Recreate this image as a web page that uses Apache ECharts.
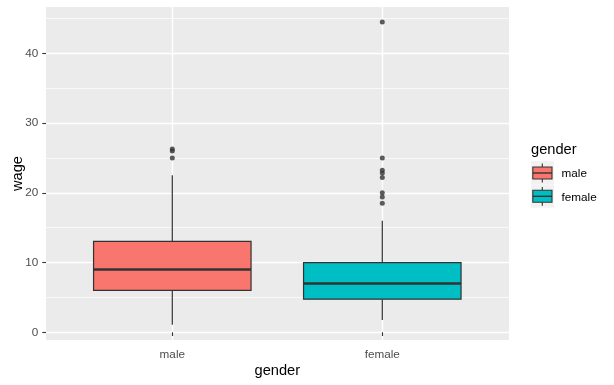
<!DOCTYPE html>
<html><head><meta charset="utf-8">
<script src="https://cdn.jsdelivr.net/npm/echarts@6/dist/echarts.min.js"></script>
<style>html,body{margin:0;padding:0;background:#fff}#c{width:614px;height:385px}</style>
</head><body><div id="c"></div>
<script>
// ---- data ----
const categories = ['male', 'female'];
const fillColors = ['#F8766D', '#00BFC4'];
// [lower whisker, Q1, median, Q3, upper whisker]
const maleStats = [1.1, 6.0, 9.0, 13.05, 22.5];
const femaleStats = [1.75, 4.75, 7.0, 10.0, 16.0];
const maleOutliers = [24.98, 26.0, 26.29];
const femaleOutliers = [44.5, 24.98, 23.25, 22.83, 22.2, 20.0, 19.38, 18.5];
const yTicks = [0, 10, 20, 30, 40];
const xTitle = 'gender';
const yTitle = 'wage';
const legendTitle = 'gender';

// ---- layout ----
const PANEL = {left: 46, right: 509, top: 7, bottom: 340};
const BOX_GRID_LEFT = 172.3, BOX_GRID_W = 210;
const Y0 = 332.3, PXU = 6.975; // pixel of value 0, pixels per unit
const yAt = v => Y0 - PXU * v;
const vAt = y => (Y0 - y) / PXU;
const textColor = '#4D4D4D';
const FONT = 'Liberation Sans, Arial, sans-serif';

const chart = echarts.init(document.getElementById('c'), null, {renderer: 'canvas'});

const boxData = [maleStats, femaleStats].map((s, i) => ({
  value: [i].concat(s), itemStyle: {color: fillColors[i]}
}));
const outlierData = [];
maleOutliers.forEach(v => outlierData.push([0, v]));
femaleOutliers.forEach(v => outlierData.push([1, v]));

function renderBox(params, api) {
  const x = api.value(0);
  const lo = api.coord([x, api.value(1)]);
  const q1 = api.coord([x, api.value(2)]);
  const md = api.coord([x, api.value(3)]);
  const q3 = api.coord([x, api.value(4)]);
  const hi = api.coord([x, api.value(5)]);
  const bw = api.size([1, 0])[0] * 0.75;
  const cx = q1[0];
  const st = {stroke: '#333333', lineWidth: 1.2};
  return {type: 'group', children: [
    {type: 'line', shape: {x1: cx, y1: lo[1], x2: cx, y2: q1[1]}, style: st},
    {type: 'line', shape: {x1: cx, y1: q3[1], x2: cx, y2: hi[1]}, style: st},
    {type: 'rect', shape: {x: cx - bw / 2, y: q3[1], width: bw, height: q1[1] - q3[1]},
      style: {fill: api.visual('color'), stroke: '#333333', lineWidth: 1.2}},
    {type: 'line', shape: {x1: cx - bw / 2, y1: md[1], x2: cx + bw / 2, y2: md[1]},
      style: {stroke: '#333333', lineWidth: 2.4}}
  ]};
}

// legend graphic
const legendEls = [];
legendEls.push({type: 'text', x: 531, y: 150, style: {text: legendTitle, font: '14.67px ' + FONT, fill: '#000', verticalAlign: 'middle'}});
const keyTop = [161, 184.3];
categories.forEach((c, i) => {
  const t = keyTop[i];
  legendEls.push({type: 'rect', shape: {x: 531, y: t, width: 23, height: 23.3}, style: {fill: '#F2F2F2'}});
  legendEls.push({type: 'line', shape: {x1: 542.3, y1: t + 2.6, x2: 542.3, y2: t + 21.4}, style: {stroke: '#333333', lineWidth: 1.1}});
  legendEls.push({type: 'rect', shape: {x: 532.8, y: t + 6, width: 19.2, height: 12}, style: {fill: fillColors[i], stroke: '#333333', lineWidth: 1.1}});
  legendEls.push({type: 'line', shape: {x1: 532.8, y1: t + 12, x2: 552, y2: t + 12}, style: {stroke: '#333333', lineWidth: 1.4}});
  legendEls.push({type: 'text', x: 561.5, y: t + 13, style: {text: c, font: '11.73px ' + FONT, fill: '#000', verticalAlign: 'middle'}});
});
legendEls.push({type: 'rect', z: -10, shape: {x: PANEL.left, y: PANEL.top, width: PANEL.right - PANEL.left, height: PANEL.bottom - PANEL.top}, style: {fill: '#EBEBEB'}});

const yMin0 = -10, yMax0 = 50;
chart.setOption({
  animation: false,
  backgroundColor: '#FFFFFF',
  textStyle: {fontFamily: FONT},
  graphic: {elements: legendEls},
  grid: [
    {left: PANEL.left, width: PANEL.right - PANEL.left, top: yAt(yMax0), height: yAt(yMin0) - yAt(yMax0), containLabel: false, outerBoundsMode: 'none'},
    {left: BOX_GRID_LEFT, width: BOX_GRID_W, top: PANEL.top, height: PANEL.bottom - PANEL.top, containLabel: false, outerBoundsMode: 'none'}
  ],
  xAxis: [
    {gridIndex: 0, type: 'value', show: false, min: 0, max: 1},
    {gridIndex: 1, type: 'category', data: categories, boundaryGap: false, z: 5,
      axisLine: {show: false},
      axisTick: {show: true, length: 3.7, lineStyle: {color: '#333333', width: 1.1}},
      axisLabel: {color: textColor, fontSize: 11.73, margin: 8.5, fontFamily: FONT},
      splitLine: {show: true, lineStyle: {color: '#FFFFFF', width: 1.4}},
      name: xTitle, nameLocation: 'middle', nameGap: 23.5, nameMoveOverlap: false,
      nameTextStyle: {color: '#000', fontSize: 14.67, fontFamily: FONT}}
  ],
  yAxis: [
    {gridIndex: 0, type: 'value', min: yMin0, max: yMax0, interval: 10,
      axisLine: {show: false},
      axisTick: {show: true, length: 3.7, lineStyle: {color: '#333333', width: 1.1}},
      axisLabel: {color: textColor, fontSize: 11.73, margin: 7.7, fontFamily: FONT,
        formatter: v => (yTicks.indexOf(v) >= 0 ? String(v) : '')},
      splitLine: {show: true, lineStyle: {color: '#FFFFFF', width: 1.4}},
      minorTick: {show: false, splitNumber: 2},
      minorSplitLine: {show: true, lineStyle: {color: '#FFFFFF', width: 0.7}}},
    {gridIndex: 1, type: 'value', show: true, min: vAt(PANEL.bottom), max: vAt(PANEL.top),
      axisLine: {show: false}, axisTick: {show: false}, axisLabel: {show: false},
      splitLine: {show: false},
      name: yTitle, nameLocation: 'middle', nameGap: BOX_GRID_LEFT - PANEL.left + 21,
      nameRotate: 90, nameMoveOverlap: false,
      nameTextStyle: {color: '#000', fontSize: 14.67, fontFamily: FONT}}
  ],
  series: [
    {type: 'custom', xAxisIndex: 1, yAxisIndex: 1, z: 10, renderItem: renderBox,
      encode: {x: 0, y: [1, 2, 3, 4, 5]}, data: boxData, clip: false},
    {type: 'scatter', xAxisIndex: 1, yAxisIndex: 1, z: 11, symbol: 'circle', symbolSize: 5,
      itemStyle: {color: '#333333'}, data: outlierData}
  ]
});
</script>
</body></html>
